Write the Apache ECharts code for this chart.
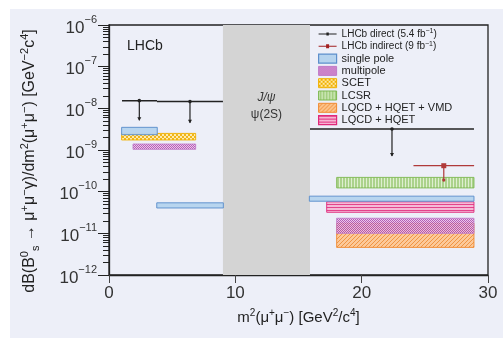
<!DOCTYPE html>
<html><head><meta charset="utf-8">
<script src="https://cdn.jsdelivr.net/npm/echarts@6/dist/echarts.min.js"></script>
<style>
html,body{margin:0;padding:0;background:#fff;}
#wrap{position:relative;width:503px;height:338px;overflow:hidden;}
#panel{position:absolute;left:10px;top:9px;width:493px;height:329px;background:#edeff8;}
#chart{position:absolute;left:0;top:0;width:503px;height:338px;}
</style></head><body>
<div id="wrap"><div id="panel"></div><div id="chart"></div></div>
<script>
// ---------- data ----------
const xTicks = [0, 10, 20, 30];
const yRange = [1e-12, 1e-6];
const resonanceBand = [9.02, 15.91];
// boxes: [xLow, xHigh, yLow, yHigh]
const singlePole  = [[1.0, 3.82, 2.33e-9, 3.5e-9], [3.78, 9.05, 4.06e-11, 5.4e-11], [15.86, 28.89, 5.9e-11, 7.8e-11]];
const multipole   = [[1.9, 6.86, 1.04e-9, 1.39e-9], [18.02, 28.89, 1.0e-11, 2.3e-11]];
const scet        = [[1.0, 6.86, 1.74e-9, 2.5e-9]];
const lcsr        = [[18.02, 28.89, 1.23e-10, 2.2e-10]];
const lqcdHqetVmd = [[18.02, 28.89, 4.6e-12, 1.74e-11]];
const lqcdHqet    = [[17.23, 28.89, 3.2e-11, 5.7e-11]];
// measurements: [xLow, xHigh, xCentre, upperValue, arrowEnd]
const lhcbDirect   = [[1.03, 3.80, 2.4, 1.53e-8, 5.2e-9], [3.80, 9.02, 6.41, 1.45e-8, 4.5e-9], [15.91, 28.89, 22.4, 3.2e-9, 7.2e-10]];
const lhcbIndirect = [[24.1, 28.9, 26.5, 4.2e-10, 1.9e-10]];
const seriesNames = ['LHCb direct (5.4 fb-1)', 'LHCb indirect (9 fb-1)', 'single pole', 'multipole', 'SCET', 'LCSR', 'LQCD + HQET + VMD', 'LQCD + HQET'];

// ---------- patterns ----------
function makePattern(w, h, bg, draw) {
  const c = document.createElement('canvas'); c.width = w; c.height = h;
  const g = c.getContext('2d'); g.fillStyle = bg; g.fillRect(0, 0, w, h);
  draw(g, w, h);
  return { image: c, repeat: 'repeat' };
}
const patMulti = makePattern(4, 4, '#eebcec', (g) => {
  g.fillStyle = '#a94aa9';
  g.fillRect(0,0,1,1); g.fillRect(1,1,1,1); g.fillRect(2,2,1,1); g.fillRect(3,3,1,1);
  g.fillRect(2,0,1,1); g.fillRect(3,1,1,1); g.fillRect(0,2,1,1); g.fillRect(1,3,1,1);
});
const patScet = makePattern(4, 4, '#f0b000', (g) => {
  g.fillStyle = '#ffe9a8'; g.fillRect(0,0,2,2); g.fillRect(2,2,2,2);
});
const patLcsr = makePattern(3, 3, '#a3cf80', (g) => {
  g.fillStyle = '#dcefcb'; g.fillRect(0,0,1,3);
});
const patVmd = makePattern(4, 4, '#fdc58e', (g) => {
  g.fillStyle = '#f08a30';
  g.fillRect(3,0,1,1); g.fillRect(2,1,1,1); g.fillRect(1,2,1,1); g.fillRect(0,3,1,1);
});
const patHqet = makePattern(3, 3, '#f6b3d2', (g) => {
  g.fillStyle = '#e2307f'; g.fillRect(0,0,3,1);
});

function boxRender(fill, stroke, opacity) {
  return function (params, api) {
    const p1 = api.coord([api.value(0), api.value(3)]);
    const p2 = api.coord([api.value(1), api.value(2)]);
    return { type: 'rect', shape: { x: p1[0], y: p1[1], width: p2[0] - p1[0], height: p2[1] - p1[1] },
      style: { fill: fill, stroke: stroke, lineWidth: 1, opacity: opacity } };
  };
}
function boxSeries(name, data, fill, stroke, opacity, z) {
  return { type: 'custom', name: name, data: data, z: z, silent: true,
    encode: { x: [0, 1], y: [2, 3] },
    itemStyle: { color: fill, borderColor: stroke, borderWidth: 1 },
    renderItem: boxRender(fill, stroke, opacity) };
}

function measRender(color, lw, marker) {
  return function (params, api) {
    const a = api.coord([api.value(0), api.value(3)]);
    const b = api.coord([api.value(1), api.value(3)]);
    const c = api.coord([api.value(2), api.value(3)]);
    const d = api.coord([api.value(2), api.value(4)]);
    const kids = [
      { type: 'line', shape: { x1: a[0], y1: a[1], x2: b[0], y2: b[1] }, style: { stroke: color, lineWidth: lw } },
      { type: 'line', shape: { x1: c[0], y1: c[1], x2: d[0], y2: d[1] }, style: { stroke: color, lineWidth: 1.2 } }
    ];
    if (marker === 'square') {
      kids.push({ type: 'rect', shape: { x: c[0] - 2.5, y: c[1] - 2.5, width: 5, height: 5 }, style: { fill: color } });
      kids.push({ type: 'circle', shape: { cx: d[0], cy: d[1], r: 1.6 }, style: { fill: color } });
    } else {
      kids.push({ type: 'circle', shape: { cx: c[0], cy: c[1], r: 1.8 }, style: { fill: color } });
      kids.push({ type: 'polygon', shape: { points: [[d[0] - 2, d[1] - 3], [d[0] + 2, d[1] - 3], [d[0], d[1] + 0.5]] }, style: { fill: color } });
    }
    return { type: 'group', children: kids };
  };
}

const iconDot = 'path://M0,0L0.01,0L0,0.01Z M0,4L18,4L18,5L0,5Z M7.8,3L10.2,3L10.2,6L7.8,6Z M18,9L17.99,9L18,8.99Z';
const iconSquare = 'path://M0,0L0.01,0L0,0.01Z M0,4L18,4L18,5L0,5Z M7.5,2.5L10.5,2.5L10.5,6.5L7.5,6.5Z M18,9L17.99,9L18,8.99Z';

const chart = echarts.init(document.getElementById('chart'), null, { renderer: 'canvas' });
const option = {
  animation: false,
  textStyle: { fontFamily: 'Liberation Sans, Arial, sans-serif' },
  grid: { left: 109, right: 15, top: 25, bottom: 63, show: true, borderColor: '#222', borderWidth: 1.3, backgroundColor: '#edeff8' },
  xAxis: {
    type: 'value', min: xTicks[0], max: xTicks[xTicks.length - 1], interval: 10,
    axisLine: { onZero: false, lineStyle: { color: '#222', width: 1.3 } },
    axisTick: { inside: false, length: 8, lineStyle: { color: '#444' } },
    axisLabel: { fontSize: 17, color: '#333', margin: 10 },
    splitLine: { show: false },
    name: '{n|m}{s|2}{n|(μ}{s|+}{n|μ}{s|−}{n|) [GeV}{s|2}{n|/c}{s|4}{n|]}',
    nameLocation: 'middle', nameGap: 33,
    nameTextStyle: { color: '#222', rich: { n: { fontSize: 15, lineHeight: 20, color: '#222' }, s: { fontSize: 10, verticalAlign: 'top', lineHeight: 10, color: '#222' } } }
  },
  yAxis: {
    type: 'log', logBase: 10, min: yRange[0], max: yRange[1], splitNumber: 6,
    axisLine: { lineStyle: { color: '#222', width: 1.3 } },
    axisTick: { inside: false, length: 11, lineStyle: { color: '#222' } },
    minorTick: { show: true, splitNumber: 9, length: 6, lineStyle: { color: '#222', width: 1 } },
    splitLine: { show: false },
    minorSplitLine: { show: false },
    axisLabel: {
      margin: 12, color: '#333',
      formatter: function (v) { const e = Math.round(Math.log10(v)); return '{b|10}{s|' + (e < 0 ? '−' : '') + Math.abs(e) + '}'; },
      rich: { b: { fontSize: 17, lineHeight: 22, color: '#333', padding: [6, 0, 0, 0] }, s: { fontSize: 11, verticalAlign: 'top', lineHeight: 11, color: '#333' } }
    },
    name: '{n|dB(B}{s|0}{d|s}{n| → μ}{s|+}{n|μ}{s|−}{n|γ)/dm}{s|2}{n|(μ}{s|+}{n|μ}{s|−}{n|) [GeV}{s|−2}{n|c}{s|4}{n|]}',
    nameLocation: 'middle', nameGap: 68,
    nameTextStyle: { color: '#222', padding: [0, 22, 0, 0], rich: {
      n: { fontSize: 16, lineHeight: 22, color: '#222' },
      s: { fontSize: 11, verticalAlign: 'top', lineHeight: 11, color: '#222' },
      d: { fontSize: 11, verticalAlign: 'bottom', lineHeight: 11, color: '#222' } } }
  },
  legend: {
    orient: 'vertical', left: 313, top: 23, itemWidth: 18, itemHeight: 9, itemGap: 0.3, selectedMode: false,
    textStyle: { fontSize: 11, color: '#222', lineHeight: 12,
      rich: { n: { fontSize: 10, lineHeight: 12, color: '#222' }, s: { fontSize: 7, verticalAlign: 'top', lineHeight: 7, color: '#222' } } },
    formatter: function (name) {
      if (name === seriesNames[0]) return '{n|LHCb direct (5.4 fb}{s|−1}{n|)}';
      if (name === seriesNames[1]) return '{n|LHCb indirect (9 fb}{s|−1}{n|)}';
      return name;
    },
    data: [
      { name: seriesNames[0], icon: iconDot, itemStyle: { color: '#222', borderWidth: 0 } },
      { name: seriesNames[1], icon: iconSquare, itemStyle: { color: '#a32020', borderWidth: 0 } },
      { name: seriesNames[2], icon: 'rect', itemStyle: { color: '#b5d3ee', borderColor: '#5d8fcc', borderWidth: 1.2 } },
      { name: seriesNames[3], icon: 'rect', itemStyle: { color: patMulti, borderColor: '#c07ac8', borderWidth: 1 } },
      { name: seriesNames[4], icon: 'rect', itemStyle: { color: patScet, borderColor: '#f0b000', borderWidth: 1 } },
      { name: seriesNames[5], icon: 'rect', itemStyle: { color: patLcsr, borderColor: '#7cb850', borderWidth: 1 } },
      { name: seriesNames[6], icon: 'rect', itemStyle: { color: patVmd, borderColor: '#f08a30', borderWidth: 1 } },
      { name: seriesNames[7], icon: 'rect', itemStyle: { color: patHqet, borderColor: '#e0287a', borderWidth: 1.2 } }
    ]
  },
  graphic: [
    { type: 'text', left: 127, top: 39, style: { text: 'LHCb', fontSize: 14, fill: '#222', fontFamily: 'Liberation Sans, Arial, sans-serif' } }
  ],
  series: [
    { type: 'custom', name: 'resonanceVeto', data: [[resonanceBand[0], 1e-9], [resonanceBand[1], 1e-9]], silent: true, z: 1,
      encode: { x: 0, y: 1 },
      renderItem: function () { return { type: 'group', children: [] }; },
      markArea: { silent: true, itemStyle: { color: '#d4d4d4' },
        label: { show: true, position: 'insideTop', distance: 64, color: '#333',
          formatter: '{i|J/ψ}\n{n|ψ(2S)}',
          rich: { i: { fontSize: 12, fontStyle: 'italic', lineHeight: 17, color: '#333' }, n: { fontSize: 12, lineHeight: 17, color: '#333' } } },
        data: [[{ xAxis: resonanceBand[0] }, { xAxis: resonanceBand[1] }]] } },
    boxSeries(seriesNames[6], lqcdHqetVmd, patVmd, '#f08a30', 0.9, 4),
    boxSeries(seriesNames[3], multipole, patMulti, '#c07ac8', 0.85, 5),
    boxSeries(seriesNames[4], scet, patScet, '#f0b000', 0.9, 5),
    boxSeries(seriesNames[5], lcsr, patLcsr, '#7cb850', 0.9, 5),
    boxSeries(seriesNames[7], lqcdHqet, patHqet, '#e0287a', 0.9, 5),
    boxSeries(seriesNames[2], singlePole, '#b5d3ee', '#5d8fcc', 0.95, 6),
    { type: 'custom', name: seriesNames[0], data: lhcbDirect, z: 8, silent: true, encode: { x: [0, 1, 2], y: [3, 4] },
      itemStyle: { color: '#222' }, renderItem: measRender('#222', 1.5, 'dot') },
    { type: 'custom', name: seriesNames[1], data: lhcbIndirect, z: 8, silent: true, encode: { x: [0, 1, 2], y: [3, 4] },
      itemStyle: { color: '#a32020' }, renderItem: measRender('#b03a3a', 1.2, 'square') }
  ]
};
chart.setOption(option);
</script>
</body></html>
